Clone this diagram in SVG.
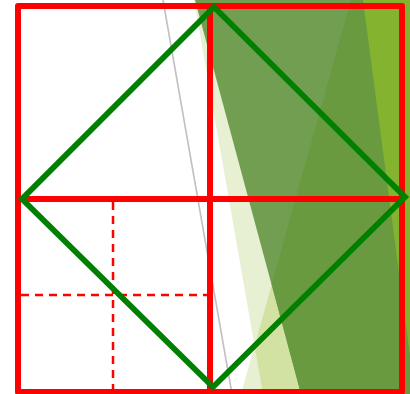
<svg xmlns="http://www.w3.org/2000/svg" width="410" height="394" viewBox="0 0 410 394">
  <style>
    .grid { fill: none; stroke: #ff0000; stroke-width: 6; stroke-linejoin: round; stroke-linecap: round; }
    .dash { fill: none; stroke: #ff0000; stroke-width: 2.5; stroke-dasharray: 8 6; }
    .diamond { fill: none; stroke: #008000; stroke-width: 5.8; stroke-linejoin: miter; }
    .guide { fill: none; stroke: #c0c0c0; stroke-width: 1.6; }
  </style>
  <rect x="0" y="0" width="410" height="394" fill="#ffffff"/>
  <g id="background">
    <line class="guide" x1="163" y1="0" x2="232" y2="394"/>
    <polygon points="194,0 410,0 410,394 263,394" fill="#e8f0d4"/>
    <polygon points="351,0 410,0 410,394 241,394" fill="#e8f0d4"/>
    <polygon points="351,0 254.6,346 263,394 410,394 410,0" fill="#d2e2a2"/>
    <polygon points="195,0 410,0 410,394 301,394" fill="#729e52"/>
    <polygon points="351,0 271.7,284 301,394 410,394 410,0" fill="#6a9a40"/>
    <polygon points="363,0 410,0 410,356" fill="#84b32f"/>
  </g>
  <g id="grid">
    <rect class="grid" x="18" y="6" width="384" height="386"/>
    <line class="grid" x1="210" y1="6" x2="210" y2="392"/>
    <line class="grid" x1="18" y1="199" x2="402" y2="199"/>
  </g>
  <g id="guides">
    <line class="dash" x1="113" y1="202" x2="113" y2="389"/>
    <line class="dash" x1="21" y1="295" x2="207" y2="295"/>
  </g>
  <g id="diamond">
    <polygon class="diamond" points="214,7 405,197 213,387 22,199"/>
  </g>
</svg>
